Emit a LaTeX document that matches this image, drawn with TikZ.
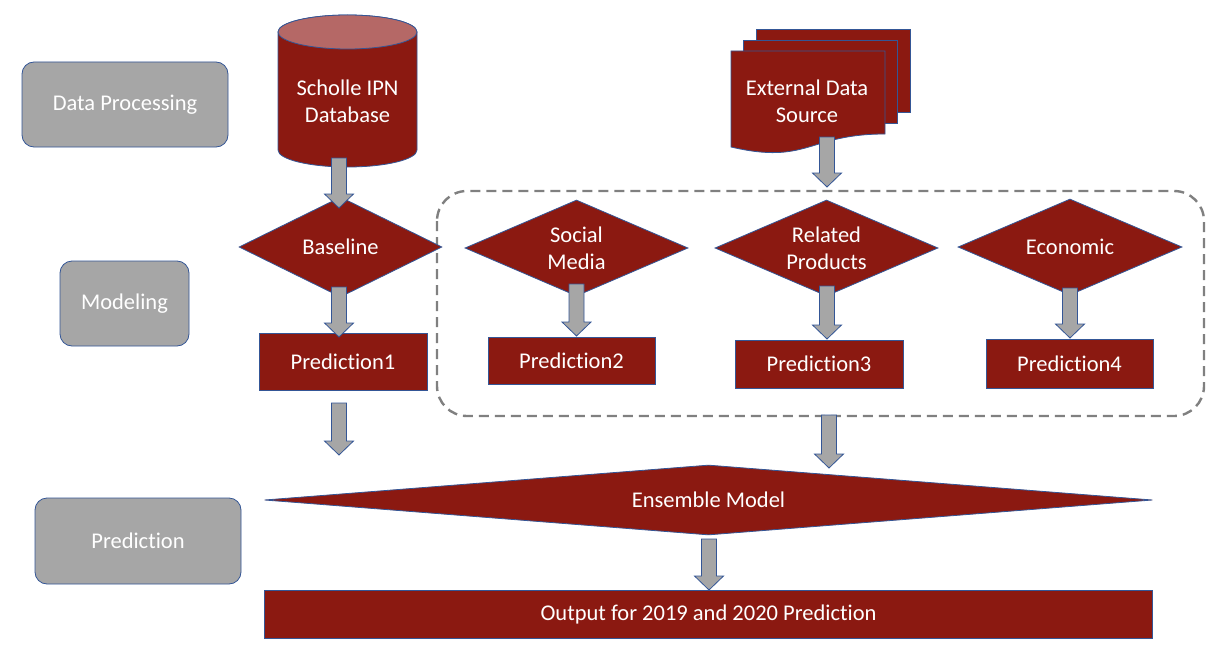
\documentclass[tikz,border=0pt]{standalone}
\usepackage{fontspec}
\setmainfont{Carlito}[Ligatures=NoCommon]
\usetikzlibrary{shapes.geometric,calc}
\definecolor{boxred}{RGB}{139,25,17}
\definecolor{cyltop}{RGB}{181,104,102}
\definecolor{edgeblue}{RGB}{52,86,150}
\definecolor{boxgray}{RGB}{166,166,166}
\definecolor{dashgray}{RGB}{128,128,128}
\tikzset{
  lbl/.style={font=\fontsize{22.5}{27}\selectfont, text=white, align=center, inner sep=0pt},
  graybox/.style={lbl, draw=edgeblue, line width=0.8pt, fill=boxgray, rounded corners=12pt},
  redbox/.style={lbl, draw=edgeblue, line width=0.8pt, fill=boxred},
  reddia/.style={lbl, diamond, draw=edgeblue, line width=0.8pt, fill=boxred},
  redshape/.style={draw=edgeblue, line width=0.8pt, fill=boxred},
  blockarrow/.style={draw=edgeblue, line width=0.8pt, fill=boxgray, line join=miter},
  groupbox/.style={draw=dashgray, line width=2.4pt, dash pattern=on 10pt off 6pt, rounded corners=30pt}
}
\newcommand\blkarrow[2]{%
  \path[blockarrow] let \p1=(#1), \p2=(#2) in
   (\x1-7.5pt,\y1) -- (\x1+7.5pt,\y1) -- (\x1+7.5pt,\y2+14pt) -- (\x1+14.5pt,\y2+14pt)
   -- (\x1,\y2) -- (\x1-14.5pt,\y2+14pt) -- (\x1-7.5pt,\y2+14pt) -- cycle;}
\begin{document}
\begin{tikzpicture}[x=1pt,y=-1pt]
\useasboundingbox (0,0) rectangle (1228,658);
\fill[white] (0,0) rectangle (1228,658);

% left stage boxes
\node[graybox, minimum width=206pt, minimum height=85pt] (dp) at (125,104.5) {Data Processing};
\node[graybox, minimum width=129pt, minimum height=85pt] (mod) at (124.5,303.5) {Modeling};
\node[graybox, minimum width=206pt, minimum height=86pt] (pred) at (138,541) {Prediction};

% cylinder database
\path[redshape] (278,32) -- (278,150) arc[start angle=180, end angle=360, x radius=69.5pt, y radius=17pt]
  -- (417,32) arc[start angle=0, end angle=180, x radius=69.5pt, y radius=17pt] -- cycle;
\path[draw=edgeblue, line width=0.8pt, fill=cyltop] (347.5,32) ellipse [x radius=69.5pt, y radius=17pt];
\node[lbl] (db) at (347.5,101.5) {Scholle IPN\\Database};

% multi-document external source
\path[redshape] (756,29) rectangle (910,112);
\path[redshape] (743.5,40) rectangle (897.5,123);
\path[redshape] (731,51) -- (885,51) -- (885,134) .. controls (808,134) and (808,165) .. (731,147) -- cycle;
\node[lbl] (ext) at (807,101) {External Data\\Source};

% dashed group
\draw[groupbox] (437,191) rectangle (1204,416);

% diamonds
\node[reddia, aspect=2.03, minimum width=203pt, minimum height=100pt] (base) at (340.5,247) {Baseline};
\node[reddia, aspect=2.323, minimum width=223pt, minimum height=96pt] (social) at (576.5,248) {Social\\Media};
\node[reddia, aspect=2.323, minimum width=223pt, minimum height=96pt] (related) at (826.5,248) {Related\\Products};
\node[reddia, aspect=2.333, minimum width=224pt, minimum height=96pt] (econ) at (1070,247) {Economic};

% prediction boxes
\node[redbox, minimum width=168pt, minimum height=57pt] (p1) at (343,361.5) {Prediction1};
\node[redbox, minimum width=167pt, minimum height=47pt] (p2) at (571.5,360.5) {Prediction2};
\node[redbox, minimum width=168pt, minimum height=48pt] (p3) at (819,364) {Prediction3};
\node[redbox, minimum width=167pt, minimum height=49pt] (p4) at (1069.5,363.5) {Prediction4};

% ensemble and output
\node[reddia, aspect=12.686, minimum width=888pt, minimum height=70pt] (ens) at (708.5,500) {Ensemble Model};
\node[redbox, minimum width=888pt, minimum height=48pt] (out) at (708.5,614) {Output for 2019 and 2020 Prediction};

% arrow end points
\coordinate (a1s) at (339,158);   \coordinate (a1e) at (339,208);
\coordinate (a2s) at (339,287);   \coordinate (a2e) at (339,337);
\coordinate (a3s) at (339,403);   \coordinate (a3e) at (339,455);
\coordinate (a4s) at (827,137);   \coordinate (a4e) at (827,187);
\coordinate (a5s) at (576.5,284); \coordinate (a5e) at (576.5,336);
\coordinate (a6s) at (827,286);   \coordinate (a6e) at (827,339);
\coordinate (a7s) at (1070,288);  \coordinate (a7e) at (1070,338);
\coordinate (a8s) at (829,415);   \coordinate (a8e) at (829,468);
\coordinate (a9s) at (709,539);   \coordinate (a9e) at (709,590);

\blkarrow{a1s}{a1e}
\blkarrow{a2s}{a2e}
\blkarrow{a3s}{a3e}
\blkarrow{a4s}{a4e}
\blkarrow{a5s}{a5e}
\blkarrow{a6s}{a6e}
\blkarrow{a7s}{a7e}
\blkarrow{a8s}{a8e}
\blkarrow{a9s}{a9e}
\end{tikzpicture}
\end{document}
